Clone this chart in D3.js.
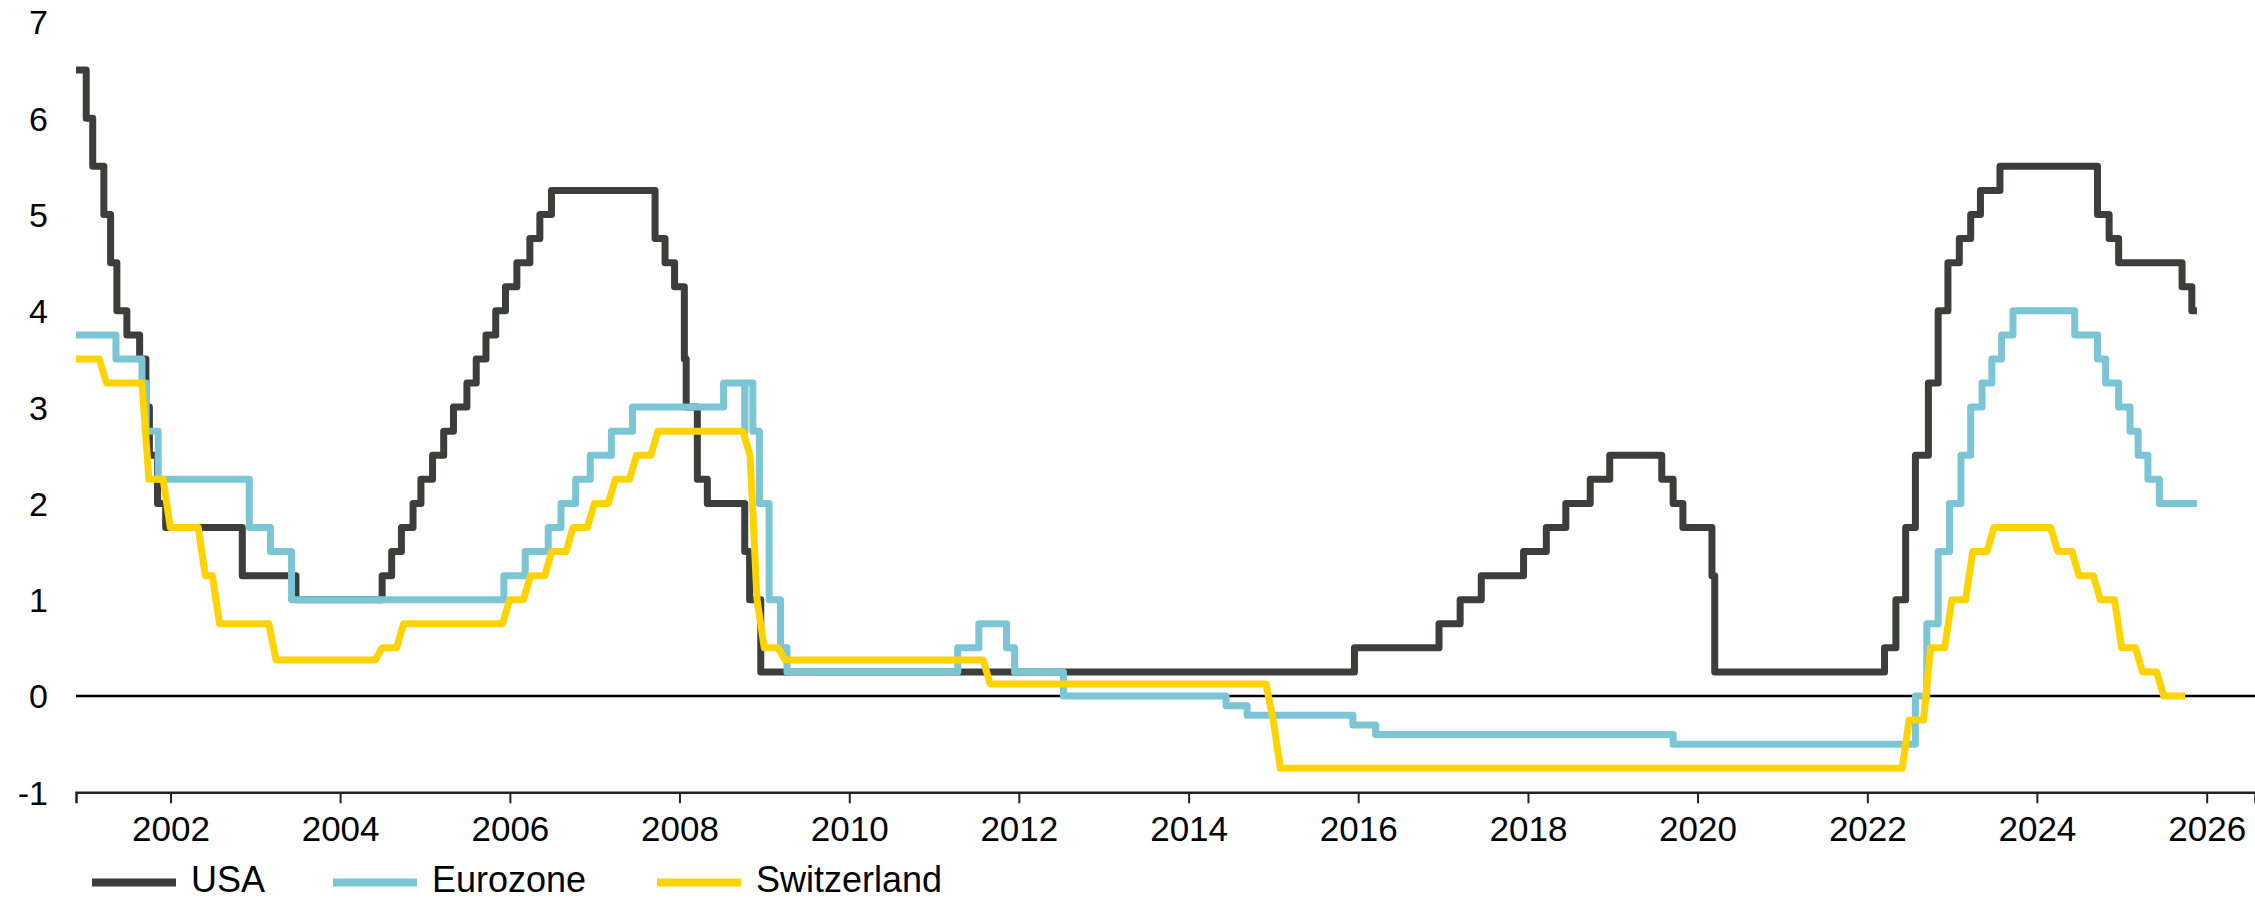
<!DOCTYPE html>
<html>
<head>
<meta charset="utf-8">
<script src="https://cdn.jsdelivr.net/npm/d3@7"></script>
<style>
  html, body { margin: 0; padding: 0; background: #fff; }
  #rates-chart text { font-family: "Liberation Sans", Arial, sans-serif; fill: #000; }
</style>
</head>
<body>
<div id="rates-chart"></div>
<script>
// --------------------------------------------------------- Data variables
var seriesNames = ['USA', 'Eurozone', 'Switzerland'];

// Fed funds target (upper bound), change dates
var usaDates = ['2000-11-20','2001-01-03','2001-01-31','2001-03-20','2001-04-18','2001-05-15','2001-06-27','2001-08-21',
  '2001-09-17','2001-10-02','2001-11-06','2001-12-11','2002-11-06','2003-06-25','2004-06-30','2004-08-10','2004-09-21',
  '2004-11-10','2004-12-14','2005-02-02','2005-03-22','2005-05-03','2005-06-30','2005-08-09','2005-09-20','2005-11-01',
  '2005-12-13','2006-01-31','2006-03-28','2006-05-10','2006-06-29','2007-09-18','2007-10-31','2007-12-11','2008-01-22',
  '2008-01-30','2008-03-18','2008-04-30','2008-10-08','2008-10-29','2008-12-16','2015-12-16','2016-12-14','2017-03-15',
  '2017-06-14','2017-12-13','2018-03-21','2018-06-13','2018-09-26','2018-12-19','2019-07-31','2019-09-18','2019-10-30',
  '2020-03-03','2020-03-15','2022-03-16','2022-05-04','2022-06-15','2022-07-27','2022-09-21','2022-11-02','2022-12-14',
  '2023-02-01','2023-03-22','2023-05-03','2023-07-26','2024-09-18','2024-11-07','2024-12-18','2025-09-17','2025-10-29',
  '2025-11-20'];
var usaRates = [6.5,6.0,5.5,5.0,4.5,4.0,3.75,3.5,3.0,2.5,2.0,1.75,1.25,1.0,1.25,1.5,1.75,2.0,2.25,2.5,2.75,3.0,3.25,3.5,
  3.75,4.0,4.25,4.5,4.75,5.0,5.25,4.75,4.5,4.25,3.5,3.0,2.25,2.0,1.5,1.0,0.25,0.5,0.75,1.0,1.25,1.5,1.75,2.0,2.25,2.5,
  2.25,2.0,1.75,1.25,0.25,0.5,1.0,1.75,2.5,3.25,4.0,4.5,4.75,5.0,5.25,5.5,5.0,4.75,4.5,4.25,4.0,4.0];

// ECB deposit facility rate, change dates
var euroDates = ['2000-11-20','2001-05-11','2001-08-31','2001-09-18','2001-11-09','2002-12-06','2003-03-07','2003-06-06',
  '2005-12-06','2006-03-08','2006-06-15','2006-08-09','2006-10-11','2006-12-13','2007-03-14','2007-06-13','2008-07-09',
  '2008-10-08','2008-10-09','2008-11-12','2008-12-10','2009-01-21','2009-03-11','2009-04-08','2011-04-13','2011-07-13',
  '2011-11-09','2011-12-14','2012-07-11','2014-06-11','2014-09-10','2015-12-09','2016-03-16','2019-09-18','2022-07-27',
  '2022-09-14','2022-11-02','2022-12-21','2023-02-08','2023-03-22','2023-05-10','2023-06-21','2023-08-02','2023-09-20',
  '2024-06-12','2024-09-18','2024-10-23','2024-12-18','2025-02-05','2025-03-12','2025-04-23','2025-06-11','2025-11-20'];
var euroRates = [3.75,3.5,3.25,2.75,2.25,1.75,1.5,1.0,1.25,1.5,1.75,2.0,2.25,2.5,2.75,3.0,3.25,2.75,3.25,2.75,2.0,1.0,0.5,
  0.25,0.5,0.75,0.5,0.25,0.0,-0.1,-0.2,-0.3,-0.4,-0.5,0.0,0.75,1.5,2.0,2.5,3.0,3.25,3.5,3.75,4.0,3.75,3.5,3.25,3.0,2.75,
  2.5,2.25,2.0,2.0];

// SNB (target range midpoint / policy rate), month-end points
var chDates = ['2000-11-20','2001-02-28','2001-03-31','2001-08-31','2001-09-30','2001-11-30','2001-12-31','2002-04-30',
  '2002-05-31','2002-06-30','2002-07-31','2003-02-28','2003-03-31','2004-05-31','2004-06-30','2004-08-31','2004-09-30',
  '2005-11-30','2005-12-31','2006-02-28','2006-03-31','2006-05-31','2006-06-30','2006-08-31','2006-09-30','2006-11-30',
  '2006-12-31','2007-02-28','2007-03-31','2007-05-31','2007-06-30','2007-08-31','2007-09-30','2008-09-30','2008-10-31',
  '2008-11-30','2008-12-31','2009-02-28','2009-03-31','2011-07-31','2011-08-31','2014-11-30','2014-12-31','2015-01-31',
  '2022-05-31','2022-06-30','2022-08-31','2022-09-30','2022-11-30','2022-12-31','2023-02-28','2023-03-31','2023-05-31',
  '2023-06-30','2024-02-29','2024-03-31','2024-05-31','2024-06-30','2024-08-31','2024-09-30','2024-11-30','2024-12-31',
  '2025-02-28','2025-03-31','2025-05-31','2025-06-30','2025-09-30'];
var chRates = [3.5,3.5,3.25,3.25,2.25,2.25,1.75,1.75,1.25,1.25,0.75,0.75,0.375,0.375,0.5,0.5,0.75,0.75,1.0,1.0,1.25,1.25,
  1.5,1.5,1.75,1.75,2.0,2.0,2.25,2.25,2.5,2.5,2.75,2.75,2.5,1.0,0.5,0.5,0.375,0.375,0.125,0.125,-0.25,-0.75,-0.75,-0.25,
  -0.25,0.5,0.5,1.0,1.0,1.5,1.5,1.75,1.75,1.5,1.5,1.25,1.25,1.0,1.0,0.5,0.5,0.25,0.25,0.0,0.0];

var yearTicks  = [2002, 2004, 2006, 2008, 2010, 2012, 2014, 2016, 2018, 2020, 2022, 2024, 2026];
var valueTicks = [-1, 0, 1, 2, 3, 4, 5, 6, 7];
// -------------------------------------------------------- /Data variables

var width = 2255,
    height = 899;

var colors = {USA: '#3c3e3b', Eurozone: '#7bc5d5', Switzerland: '#ffd300'};

var parse = d3.utcParse('%Y-%m-%d');

function zipSeries(dates, rates) {
  return dates.map(function(d, i) { return {date: parse(d), value: rates[i]}; });
}

var series = [
  {name: 'USA', values: zipSeries(usaDates, usaRates), curve: d3.curveStepAfter},
  {name: 'Eurozone', values: zipSeries(euroDates, euroRates), curve: d3.curveStepAfter},
  {name: 'Switzerland', values: zipSeries(chDates, chRates), curve: d3.curveLinear}
];

var x = d3.scaleUtc()
    .domain([parse('2000-11-20'), parse('2026-07-28')])
    .range([76, width]);

var y = d3.scaleLinear()
    .domain([-1, 7])
    .range([792.3, 21.9]);

var svg = d3.select('#rates-chart').append('svg')
    .attr('width', width)
    .attr('height', height);

// y labels, no axis line
var yAxis = svg.append('g')
    .attr('transform', 'translate(48,0)')
    .call(d3.axisLeft(y).tickValues(valueTicks).tickSize(0).tickPadding(0)
      .tickFormat(function(d) { return String(d); }));
yAxis.select('.domain').remove();
yAxis.selectAll('text').style('font-size', '34px').attr('dy', '0.35em');

// zero line
svg.append('line')
    .attr('x1', x.range()[0])
    .attr('x2', x.range()[1])
    .attr('y1', y(0))
    .attr('y2', y(0))
    .attr('stroke', '#000')
    .attr('stroke-width', 2.5);

// bottom axis sits at -1
var xAxis = svg.append('g')
    .attr('transform', 'translate(0,' + y(-1) + ')')
    .call(d3.axisBottom(x)
      .tickValues(yearTicks.map(function(yr) { return new Date(Date.UTC(yr, 0, 1)); }))
      .tickFormat(d3.utcFormat('%Y'))
      .tickSizeOuter(0)
      .tickSize(11)
      .tickPadding(13));
xAxis.select('.domain').attr('stroke', '#222').attr('stroke-width', 2.5);
xAxis.selectAll('.tick line').attr('stroke', '#222').attr('stroke-width', 2);
xAxis.selectAll('text').style('font-size', '35px');

// lines
var lines = svg.append('g');
series.forEach(function(s) {
  var line = d3.line()
      .x(function(d) { return x(d.date); })
      .y(function(d) { return y(d.value); })
      .curve(s.curve);
  lines.append('path')
      .datum(s.values)
      .attr('fill', 'none')
      .attr('stroke', colors[s.name])
      .attr('stroke-width', 7)
      .attr('stroke-linejoin', 'round')
      .attr('stroke-linecap', 'butt')
      .attr('d', line);
});

// legend (kept a few px off the bottom edge so descent box fits)
var legendX = [92, 333, 657];
var legend = svg.append('g');
seriesNames.forEach(function(name, i) {
  legend.append('line')
      .attr('x1', legendX[i])
      .attr('x2', legendX[i] + 84)
      .attr('y1', 882.5)
      .attr('y2', 882.5)
      .attr('stroke', colors[name])
      .attr('stroke-width', 8);
  legend.append('text')
      .attr('x', legendX[i] + 99)
      .attr('y', 891.5)
      .style('font-size', '36px')
      .text(name);
});
</script>
</body>
</html>
